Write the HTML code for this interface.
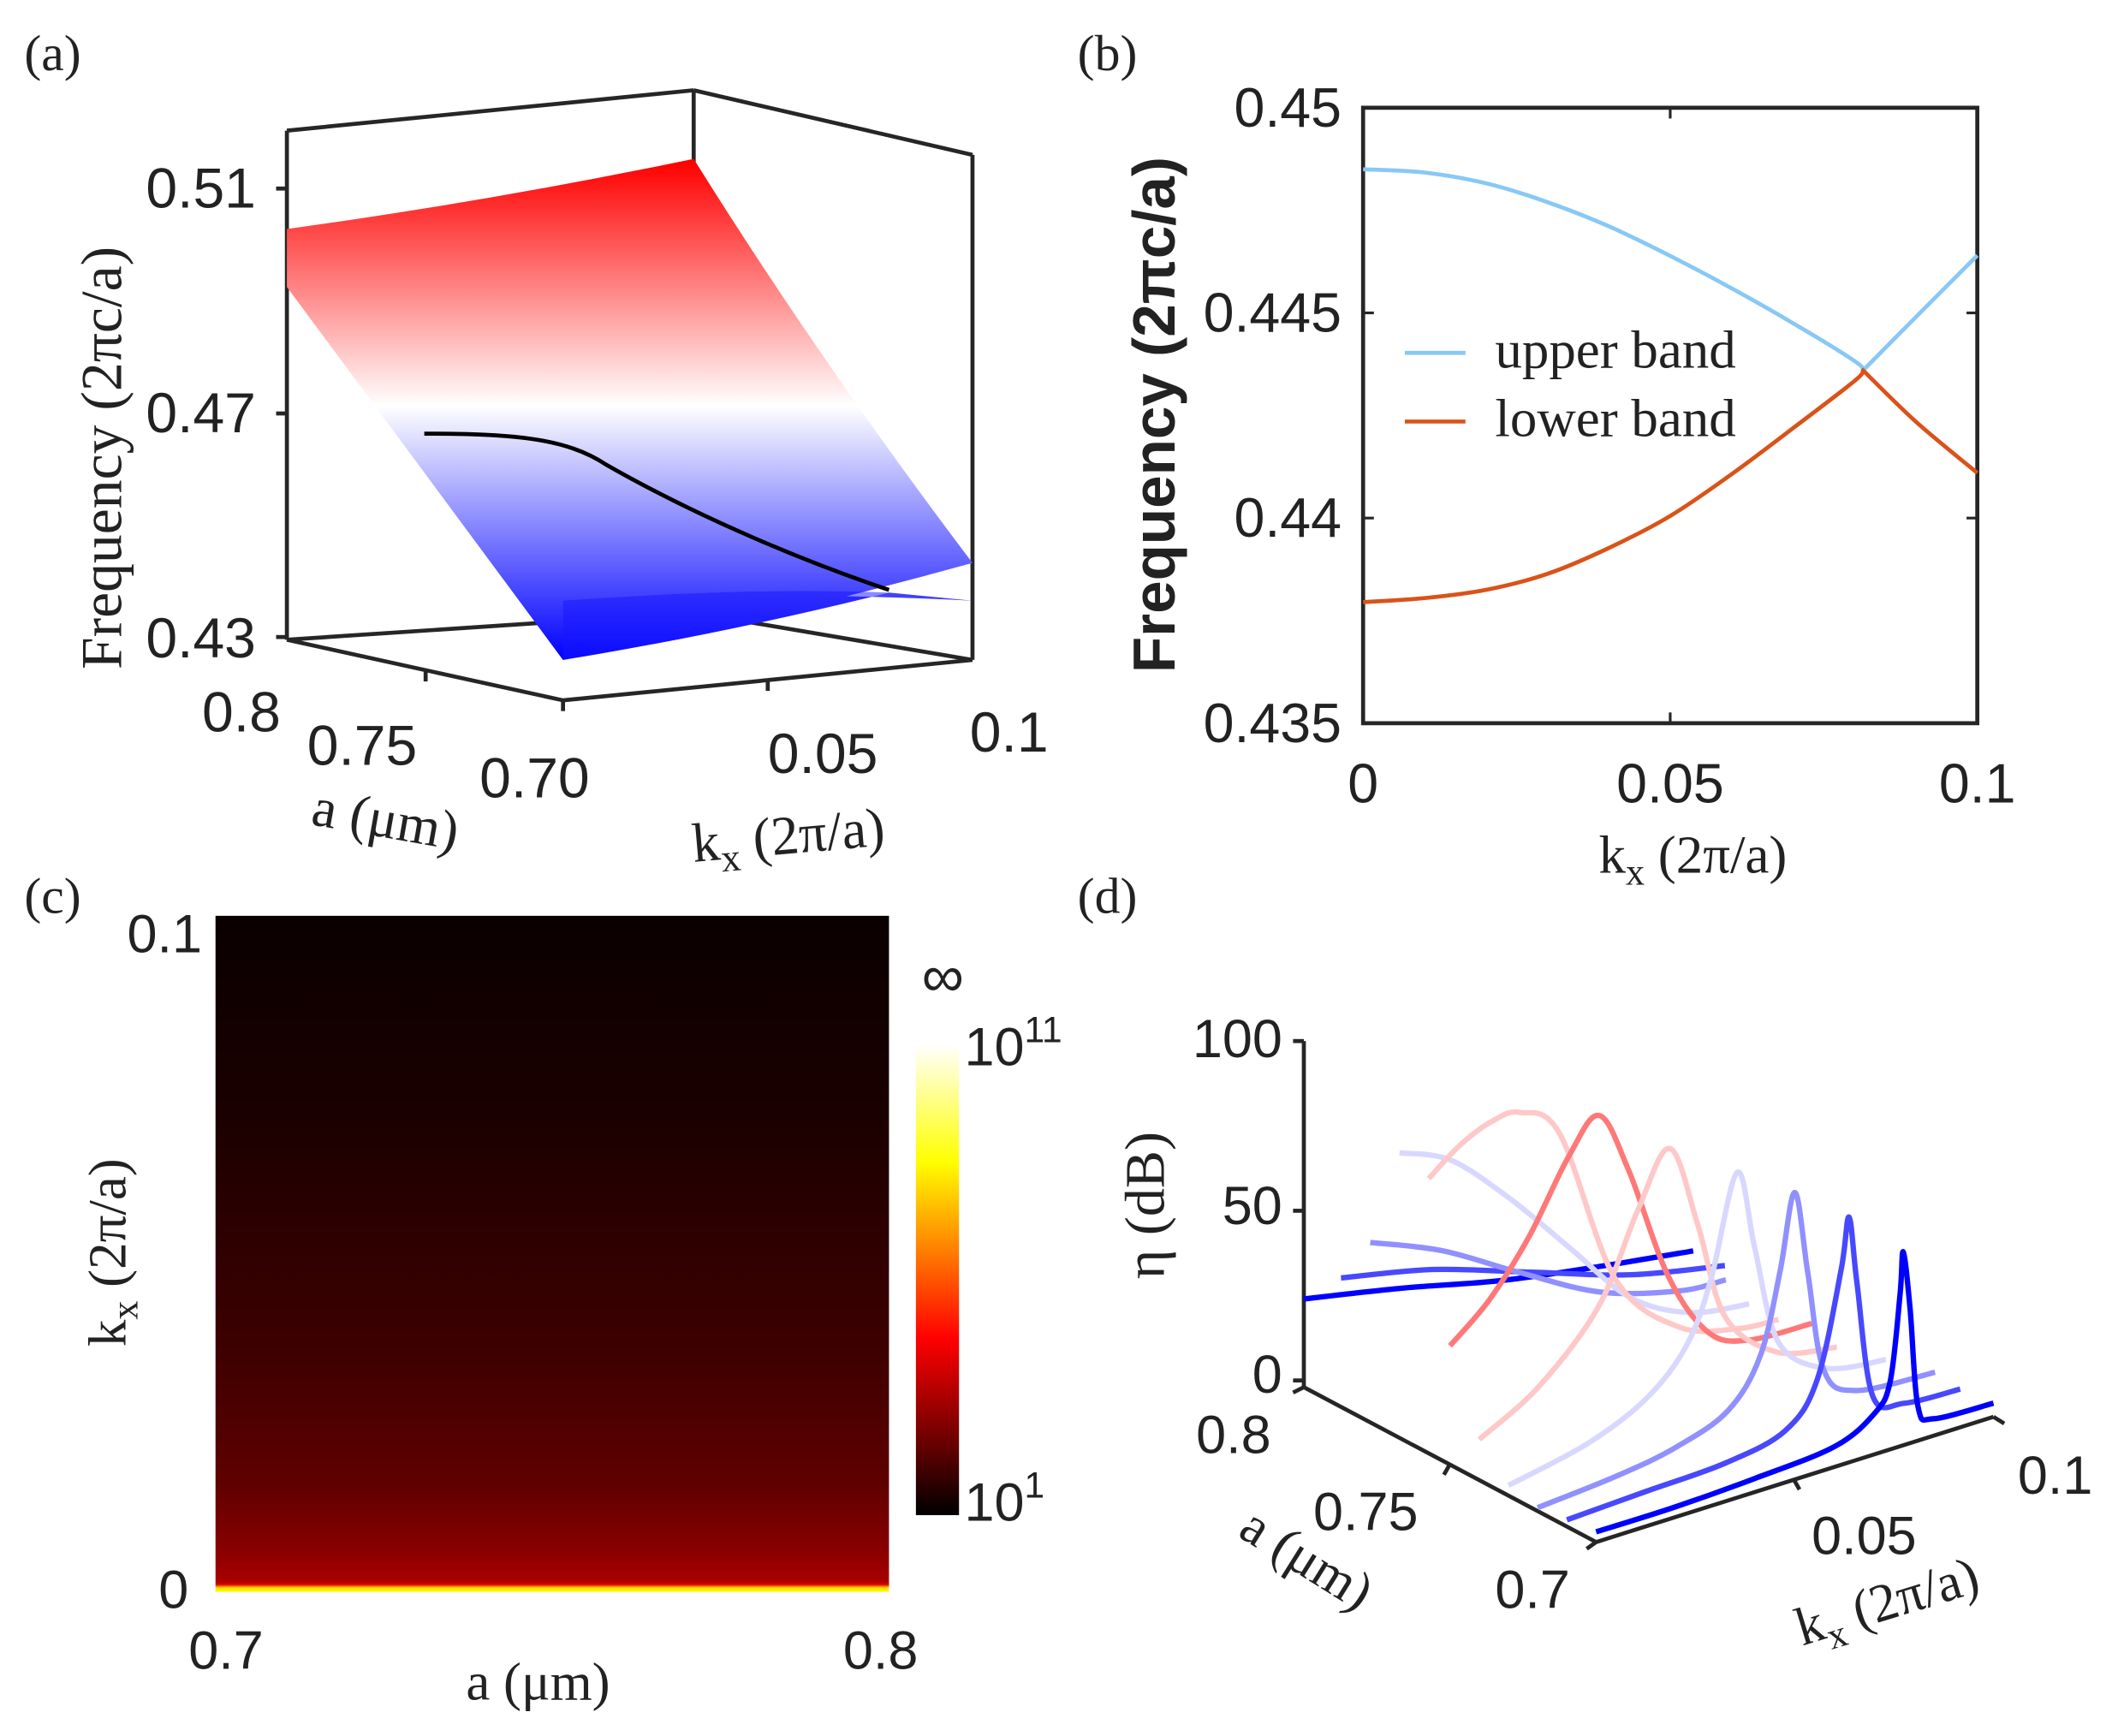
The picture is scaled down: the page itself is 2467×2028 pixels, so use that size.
<!DOCTYPE html>
<html><head><meta charset="utf-8"><style>
html,body{margin:0;padding:0;background:#fff}
svg{display:block}
text{font-family:"Liberation Sans",sans-serif;fill:#222}
.serif{font-family:"Liberation Serif",serif}
</style></head><body>
<svg id="fig" xmlns="http://www.w3.org/2000/svg" width="2467" height="2028" viewBox="0 0 1568 1289" preserveAspectRatio="none">
<defs>
<linearGradient id="surfGrad" gradientUnits="userSpaceOnUse" x1="0" y1="120" x2="0" y2="490">
<stop offset="0" stop-color="#ff0000"/><stop offset="0.49" stop-color="#ffffff"/><stop offset="1" stop-color="#0000ff"/>
</linearGradient>
<linearGradient id="cbGrad" x1="0" y1="1" x2="0" y2="0">
<stop offset="0" stop-color="#000000"/><stop offset="0.375" stop-color="#ff0000"/><stop offset="0.75" stop-color="#ffff00"/><stop offset="1" stop-color="#ffffff"/>
</linearGradient>
<linearGradient id="heatGrad" gradientUnits="userSpaceOnUse" x1="0" y1="1182" x2="0" y2="680"></linearGradient>
</defs>

<!-- panel labels -->
<text class="serif" x="18" y="52" font-size="38">(a)</text>
<text class="serif" x="800" y="52" font-size="38">(b)</text>
<text class="serif" x="18" y="678" font-size="38">(c)</text>
<text class="serif" x="800" y="678" font-size="38">(d)</text>

<!-- ============ panel a ============ -->
<g id="panelA">
<g stroke="#262626" stroke-width="3" fill="none">
<line x1="213" y1="97" x2="213" y2="475"/>
<line x1="213" y1="97" x2="515" y2="67"/>
<line x1="515" y1="67" x2="722" y2="115"/>
<line x1="515" y1="67" x2="515" y2="455"/>
<line x1="722" y1="115" x2="722" y2="490"/>
<line x1="213" y1="475" x2="515" y2="455"/>
<line x1="515" y1="455" x2="722" y2="490"/>
<line x1="213" y1="475" x2="418" y2="520"/>
<line x1="418" y1="520" x2="722" y2="490"/>
<line x1="205" y1="140" x2="213" y2="140"/><line x1="205" y1="307" x2="213" y2="307"/><line x1="205" y1="473" x2="213" y2="473"/>
<line x1="316" y1="498" x2="316" y2="506"/><line x1="570" y1="505" x2="570" y2="513"/><line x1="418" y1="520" x2="418" y2="528"/>
</g>
<path d="M213,213 L238,207 L420,446 Q560,438 722,446 L660,440 Q540,470 418,490 Z" fill="url(#surfGrad)"/>
<path d="M213,170 Q360,150 515,118 Q610,270 722,418 Q570,460 418,490 L213,213 Z" fill="url(#surfGrad)"/>
<path d="M418,446 Q560,436 660,440 Q540,470 418,490 Z" fill="#1515ff" opacity="0.5"/>
<path d="M315,322 C380,322 420,325 450,345 C520,385 600,418 660,438" stroke="#000" stroke-width="3" fill="none"/>
<text x="190" y="154" font-size="42" text-anchor="end">0.51</text>
<text x="190" y="321" font-size="42" text-anchor="end">0.47</text>
<text x="190" y="488" font-size="42" text-anchor="end">0.43</text>
<text x="150" y="543" font-size="42">0.8</text>
<text x="228" y="568" font-size="42">0.75</text>
<text x="356" y="592" font-size="42">0.70</text>
<text x="570" y="574" font-size="42">0.05</text>
<text x="720" y="558" font-size="42">0.1</text>
<text class="serif" transform="translate(90,340) rotate(-90)" font-size="43" text-anchor="middle">Frequency (2πc/a)</text>
<text class="serif" transform="translate(230,612) rotate(10)" font-size="41">a (μm)</text>
<text class="serif" transform="translate(515,640) rotate(-5)" font-size="41">k<tspan font-size="29" dy="9">x</tspan><tspan dy="-9"> (2π/a)</tspan></text>
</g>

<!-- ============ panel b ============ -->
<g id="panelB">
<rect x="1012" y="80" width="456" height="457" fill="none" stroke="#262626" stroke-width="3"/>
<g id="bTicks"></g>
<g id="bLines"></g>
<line x1="1043" y1="262" x2="1088" y2="262" stroke="#88c8f5" stroke-width="3"/>
<text class="serif" x="1110" y="273" font-size="40">upper band</text>
<line x1="1043" y1="313" x2="1088" y2="313" stroke="#d95319" stroke-width="3"/>
<text class="serif" x="1110" y="324" font-size="40">lower band</text>
<text transform="translate(872,308) rotate(-90)" font-size="44" text-anchor="middle" style="font-weight:600">Frequency (2πc/a)</text>
<text class="serif" x="1187" y="648" font-size="40">k<tspan font-size="28" dy="9">x</tspan><tspan dy="-9"> (2π/a)</tspan></text>
</g>

<!-- ============ panel c ============ -->
<g id="panelC">
<g id="cCells"></g>
<rect x="680" y="775" width="32" height="350" fill="url(#cbGrad)"/>
<text x="716" y="791" font-size="40">10<tspan font-size="27" dy="-17">11</tspan></text>
<text x="716" y="1129" font-size="40">10<tspan font-size="27" dy="-17">1</tspan></text>
<text x="700" y="740" font-size="44" text-anchor="middle">∞</text>
<text x="150" y="707" font-size="40" text-anchor="end">0.1</text>
<text x="140" y="1194" font-size="40" text-anchor="end">0</text>
<text x="140" y="1239" font-size="40">0.7</text>
<text x="626" y="1239" font-size="40">0.8</text>
<text class="serif" x="346" y="1262" font-size="40">a (μm)</text>
<text class="serif" transform="translate(93,930) rotate(-90)" font-size="40" text-anchor="middle">k<tspan font-size="28" dy="9">x</tspan><tspan dy="-9"> (2π/a)</tspan></text>
</g>

<!-- ============ panel d ============ -->
<g id="panelD">
<g stroke="#262626" stroke-width="3" fill="none">
<line x1="968" y1="773" x2="968" y2="1030"/>
<line x1="960" y1="773" x2="968" y2="773"/><line x1="960" y1="899" x2="968" y2="899"/><line x1="960" y1="1025" x2="968" y2="1025"/>
<line x1="968" y1="1030" x2="1185" y2="1145"/>
<line x1="1185" y1="1145" x2="1480" y2="1052"/>
<line x1="1076" y1="1088" x2="1072" y2="1095"/><line x1="1332" y1="1099" x2="1336" y2="1106"/>
<line x1="1185" y1="1145" x2="1178" y2="1150"/><line x1="1480" y1="1052" x2="1488" y2="1057"/><line x1="968" y1="1030" x2="960" y2="1034"/>
</g>
<g id="dLines"></g>
<text x="952" y="785" font-size="40" text-anchor="end">100</text>
<text x="952" y="909" font-size="40" text-anchor="end">50</text>
<text x="952" y="1034" font-size="40" text-anchor="end">0</text>
<text x="888" y="1079" font-size="40">0.8</text>
<text x="975" y="1136" font-size="40">0.75</text>
<text x="1110" y="1194" font-size="40">0.7</text>
<text x="1345" y="1154" font-size="40">0.05</text>
<text x="1498" y="1109" font-size="40">0.1</text>
<text class="serif" transform="translate(864,895) rotate(-90)" font-size="42" text-anchor="middle">η (dB)</text>
<text class="serif" transform="translate(918,1140) rotate(32)" font-size="40">a (μm)</text>
<text class="serif" transform="translate(1338,1222) rotate(-17)" font-size="40">k<tspan font-size="28" dy="9">x</tspan><tspan dy="-9"> (2π/a)</tspan></text>
</g>
</svg>

<script>
// ---------- panel b data ----------
const bKx = [0, 0.01, 0.02, 0.03, 0.04, 0.05, 0.06, 0.07, 0.08, 0.0814, 0.09, 0.1];
const bUpper = [0.4485, 0.44842, 0.44816, 0.4477, 0.44711, 0.44639, 0.4456, 0.44475, 0.44383, 0.4436, 0.4449, 0.4464];
const bLower = [0.43795, 0.43805, 0.43825, 0.43864, 0.43927, 0.44005, 0.44107, 0.44219, 0.44334, 0.4436, 0.44235, 0.4411];
const bYTicks = [0.435, 0.44, 0.445, 0.45];
const bYTickLabels = ["0.435", "0.44", "0.445", "0.45"];
const bXTicks = [0, 0.05, 0.1];
const bXTickLabels = ["0", "0.05", "0.1"];

// ---------- panel c data (log10 Q per kx) ----------
const cKx = [0, 0.0006, 0.0011, 0.0016, 0.0064, 0.016, 0.036, 0.05, 0.07, 0.1];
const cLogQ = [8.6, 8.0, 4.2, 3.45, 3.0, 2.4, 1.9, 1.7, 1.4, 1.15];

// ---------- panel d data ----------
const dA = [0.80, 0.79, 0.78, 0.77, 0.76, 0.75, 0.74, 0.73, 0.72, 0.71, 0.70];
const dKx = [
 [0, 0.025, 0.05, 0.075, 0.098],
 [0.002, 0.025, 0.05, 0.075, 0.0986],
 [0.002, 0.02, 0.04, 0.06, 0.08, 0.0915],
 [0.002, 0.015, 0.03, 0.045, 0.06, 0.075, 0.09],
 [0.002, 0.01, 0.018, 0.025, 0.035, 0.049, 0.065, 0.08, 0.09],
 [0, 0.01, 0.02, 0.03, 0.0376, 0.045, 0.055, 0.065, 0.075, 0.091],
 [0, 0.015, 0.03, 0.04, 0.048, 0.055, 0.062, 0.075, 0.09],
 [0, 0.02, 0.035, 0.045, 0.051, 0.0576, 0.062, 0.068, 0.08, 0.095],
 [0, 0.02, 0.035, 0.048, 0.056, 0.061, 0.0647, 0.068, 0.072, 0.08, 0.1],
 [0, 0.02, 0.04, 0.055, 0.063, 0.069, 0.071, 0.073, 0.077, 0.085, 0.099],
 [0, 0.02, 0.04, 0.06, 0.07, 0.074, 0.0765, 0.0773, 0.079, 0.081, 0.085, 0.1]
];
const dEta = [
 [26, 20, 13, 8, 4],
 [36, 30, 20, 10, 4],
 [51, 42, 28, 15, 8, 7],
 [82, 75, 58, 38, 18, 8, 5],
 [79, 86, 90, 90, 80, 32, 12, 6, 5],
 [35, 45, 60, 80, 89, 70, 35, 15, 9, 8],
 [12, 22, 40, 65, 80, 55, 25, 10, 6],
 [3, 8, 16, 28, 45, 74, 50, 20, 8, 5],
 [1, 3, 6, 12, 25, 48, 70, 45, 15, 6, 4],
 [2, 3, 4, 8, 20, 50, 65, 45, 10, 5, 4],
 [3, 3, 4, 6, 12, 20, 45, 57, 40, 10, 5, 4]
];
const dColors = ["#0000ff", "#4848ff", "#9090ff", "#d8d8ff", "#ffc8c8", "#ff7878", "#ffc8c8", "#d8d8ff", "#9090ff", "#4848ff", "#0000ff"];

const NS = "http://www.w3.org/2000/svg";
function mk(tag, attrs, parent) {
  const e = document.createElementNS(NS, tag);
  for (const k in attrs) e.setAttribute(k, attrs[k]);
  parent.appendChild(e);
  return e;
}
function smoothPath(pts) {
  let d = "M" + pts[0][0].toFixed(1) + "," + pts[0][1].toFixed(1);
  for (let i = 0; i < pts.length - 1; i++) {
    const p0 = pts[Math.max(0, i - 1)], p1 = pts[i], p2 = pts[i + 1], p3 = pts[Math.min(pts.length - 1, i + 2)];
    const c1x = p1[0] + (p2[0] - p0[0]) / 6, c1y = p1[1] + (p2[1] - p0[1]) / 6;
    const c2x = p2[0] - (p3[0] - p1[0]) / 6, c2y = p2[1] - (p3[1] - p1[1]) / 6;
    d += " C" + c1x.toFixed(1) + "," + c1y.toFixed(1) + " " + c2x.toFixed(1) + "," + c2y.toFixed(1) + " " + p2[0].toFixed(1) + "," + p2[1].toFixed(1);
  }
  return d;
}

// ---- panel b ----
const xB = k => 1012 + (k / 0.1) * 456;
const yB = f => 80 + (0.45 - f) / 0.015 * 457;
const bT = document.getElementById("bTicks");
bYTicks.forEach((v, i) => {
  const y = yB(v);
  const t1 = mk("line", {x1: 1012, y1: y, x2: 1020, y2: y, stroke: "#262626", "stroke-width": 2}, bT);
  
  
  const t2 = mk("line", {x1: 1460, y1: y, x2: 1468, y2: y, stroke: "#262626", "stroke-width": 2}, bT);
  
  
  const tx = mk("text", {x: 996, y: y + 14, "font-size": 41, "text-anchor": "end"}, bT);
  tx.textContent = bYTickLabels[i];
  
  
});
bXTicks.forEach((v, i) => {
  const x = xB(v);
  const t1 = mk("line", {x1: x, y1: 537, x2: x, y2: 529, stroke: "#262626", "stroke-width": 2}, bT);
  
  
  const t2 = mk("line", {x1: x, y1: 80, x2: x, y2: 88, stroke: "#262626", "stroke-width": 2}, bT);
  
  
  const tx = mk("text", {x: x, y: 596, "font-size": 41, "text-anchor": "middle"}, bT);
  tx.textContent = bXTickLabels[i];
  
  
});
const bL = document.getElementById("bLines");
function bandPath(arr) {
  const i0 = bKx.indexOf(0.0814);
  const left = bKx.slice(0, i0 + 1).map((k, i) => [xB(k), yB(arr[i])]);
  const right = bKx.slice(i0).map((k, i) => [xB(k), yB(arr[i + i0])]);
  return smoothPath(left) + " " + smoothPath(right).replace("M", "L");
}
const up = mk("path", {d: bandPath(bUpper), stroke: "#88c8f5", "stroke-width": 3, fill: "none"}, bL);


const lo = mk("path", {d: bandPath(bLower), stroke: "#d95319", "stroke-width": 3, fill: "none"}, bL);



// ---- panel c ----
function hot(t) {
  t = Math.max(0, Math.min(1, t));
  const r = Math.min(1, t / 0.375), g = Math.max(0, Math.min(1, (t - 0.375) / 0.375)), b = Math.max(0, (t - 0.75) / 0.25);
  return "rgb(" + Math.round(r * 255) + "," + Math.round(g * 255) + "," + Math.round(b * 255) + ")";
}
const hg = document.getElementById("heatGrad");
cKx.forEach((k, i) => {
  mk("stop", {offset: (k / 0.1).toFixed(5), "stop-color": hot((cLogQ[i] - 1) / 10)}, hg);
});
const cC = document.getElementById("cCells");
const hm = mk("rect", {x: 160, y: 680, width: 500, height: 502, fill: "url(#heatGrad)"}, cC);



// ---- panel d ----
function projD(k, a, eta) {
  const bx = 1185 - (a - 0.7) / 0.1 * 217, by = 1145 - (a - 0.7) / 0.1 * 115;
  return [bx + (k / 0.1) * 295, by - (k / 0.1) * 93 - eta * 2.52];
}
const dL = document.getElementById("dLines");
dA.forEach((a, i) => {
  const pts = dKx[i].map((k, j) => projD(k, a, dEta[i][j]));
  const p = mk("path", {d: smoothPath(pts), stroke: dColors[i], "stroke-width": 4, fill: "none", "stroke-linejoin": "round"}, dL);
  
  
});
</script>
</body></html>
